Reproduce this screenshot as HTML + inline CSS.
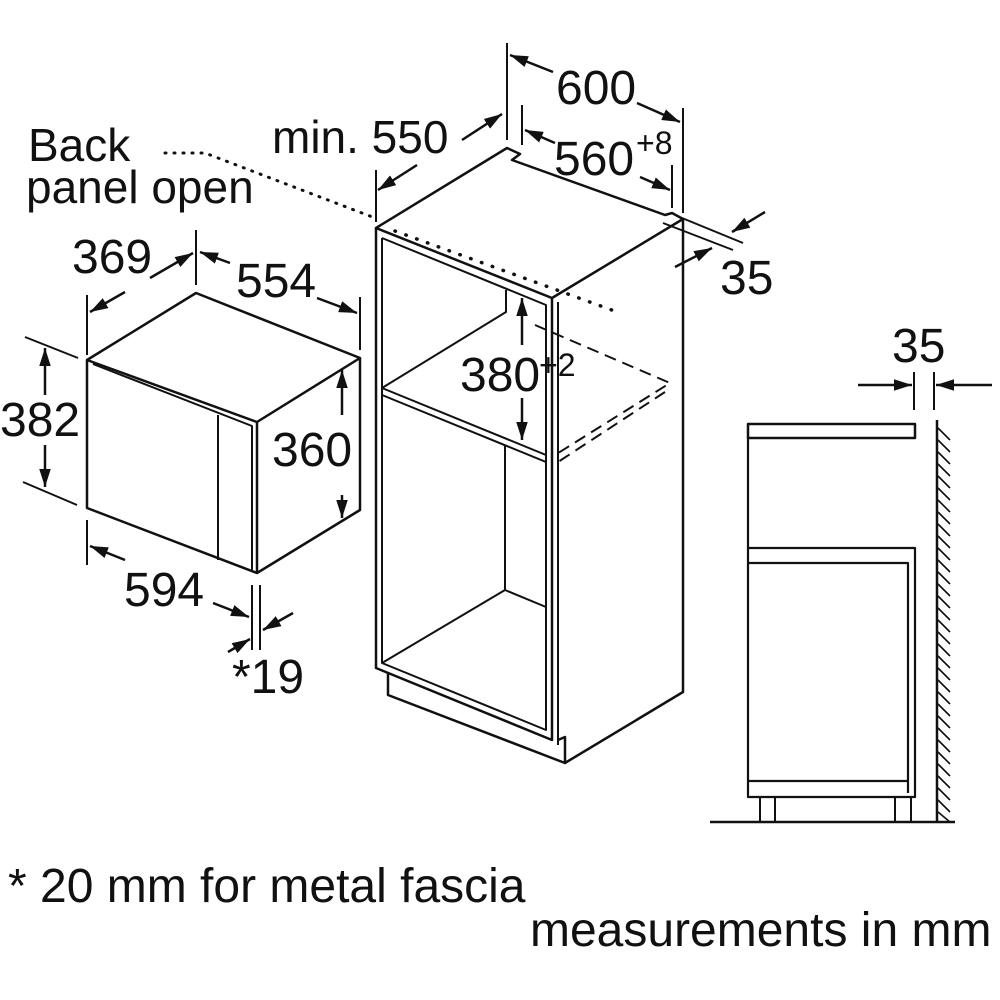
<!DOCTYPE html>
<html><head><meta charset="utf-8"><style>
html,body{margin:0;padding:0;background:#fff}
svg{display:block}
text{font-family:"Liberation Sans",sans-serif;fill:#111}
</style></head><body>
<svg width="1000" height="1000" viewBox="0 0 1000 1000" xmlns="http://www.w3.org/2000/svg">
<defs>
<marker id="b" viewBox="0 0 10 10" refX="10" refY="5" markerWidth="18" markerHeight="18" markerUnits="userSpaceOnUse" orient="auto">
<path d="M0,1.8 L10,5 L0,8.2 z" fill="#111"/></marker>
</defs>
<g stroke="#111" stroke-width="2.5" fill="none" stroke-linejoin="round">
<!-- microwave -->
<path d="M87,360 L196,293 L360,358 L257,422 Z"/>
<path d="M87,360 L87,508 L257,573 L257,422"/>
<path d="M360,358 L360,510 L257,573"/>
<path d="M93,364 L252,426 L252,570" stroke-width="2"/>
<path d="M218,415 L218,560" stroke-width="2"/>
<!-- microwave dims -->
<path d="M87,295 L87,355 M196,230 L196,285 M360,297 L360,350" stroke-width="2"/>
<path d="M150,278 L193,253" marker-end="url(#b)"/>
<path d="M125,292 L90,312" marker-end="url(#b)"/>
<path d="M230,263 L200,252" marker-end="url(#b)"/>
<path d="M317,298 L357,313" marker-end="url(#b)"/>
<path d="M25,337 L78,358 M23,482 L77,505" stroke-width="2"/>
<path d="M45,395 L45,348" marker-end="url(#b)"/>
<path d="M45,445 L45,487" marker-end="url(#b)"/>
<path d="M342,415 L342,370" marker-end="url(#b)"/>
<path d="M342,495 L342,518" marker-end="url(#b)"/>
<path d="M87,520 L87,565 M252,585 L252,650 M260,585 L260,650" stroke-width="2"/>
<path d="M125,560 L90,546" marker-end="url(#b)"/>
<path d="M213,603 L249,617" marker-end="url(#b)"/>
<path d="M293,613 L263,630" marker-end="url(#b)"/>
<path d="M228,652 L250,639" marker-end="url(#b)"/>
<!-- cabinet -->
<path d="M376,228 L507,148 L520,154 L512,160 L665,215 L672,213 L683,219 L552,298 Z"/>
<path d="M376,228 L376,668 L552,740 L552,298"/>
<path d="M382,238 L382,663 L546,730 L546,305 L382,238" stroke-width="2"/>
<path d="M558,302 L558,745" stroke-width="2"/>
<path d="M683,219 L683,692 L565,763 L565,737 L558,740"/>
<path d="M388,672 L388,695 L565,763"/>
<path d="M382,388 L546,455 M382,395 L546,462" stroke-width="2"/>
<path d="M506,290 L506,312 L382,388" stroke-width="2"/>
<path d="M505,445 L505,590 L382,663 M505,590 L546,607" stroke-width="2"/>
<path d="M535,325 L670,383 L555,455 M665,392 L558,462" stroke-width="2" stroke-dasharray="12,7"/>
<path d="M165,153 L205,153 L375,218" stroke-width="3" stroke-dasharray="1,8" stroke-linecap="round"/>
<path d="M395,231 L620,313" stroke-width="3.5" stroke-dasharray="0.5,11" stroke-linecap="round"/>
<!-- cabinet dims -->
<path d="M507,43 L507,140 M683,108 L683,213" stroke-width="2"/>
<path d="M553,72 L510,55" marker-end="url(#b)"/>
<path d="M637,103 L680,122" marker-end="url(#b)"/>
<path d="M522,105 L522,145 M672,165 L672,208" stroke-width="2"/>
<path d="M555,143 L525,130" marker-end="url(#b)"/>
<path d="M640,177 L670,190" marker-end="url(#b)"/>
<path d="M376,170 L376,222" stroke-width="2"/>
<path d="M417,165 L378,190" marker-end="url(#b)"/>
<path d="M462,140 L502,114" marker-end="url(#b)"/>
<path d="M682,218 L743,243 M663,223 L733,250" stroke-width="2"/>
<path d="M765,212 L732,232" marker-end="url(#b)"/>
<path d="M675,267 L712,248" marker-end="url(#b)"/>
<path d="M522,345 L522,298" marker-end="url(#b)"/>
<path d="M522,398 L522,440" marker-end="url(#b)"/>
<!-- side view -->
<rect x="748" y="424" width="167" height="14"/>
<path d="M748,438 L748,797 L915,797 L915,548 L748,548" stroke-width="2.2"/>
<path d="M748,563 L908,563 L908,793 M748,781 L908,781" stroke-width="2.2"/>
<path d="M760,797 L760,822 M775,797 L775,822 M895,797 L895,822 M911,797 L911,822" stroke-width="2"/>
<path d="M710,822 L955,822"/>
<path d="M937,420 L937,822"/>
<path d="M914,372 L914,410 M934,372 L934,410" stroke-width="2"/>
<path d="M858,385 L912,385" marker-end="url(#b)"/>
<path d="M992,385 L936,385" marker-end="url(#b)"/>
</g>
<g stroke="#111" stroke-width="1.6">
<path d="M938,428 L950,440 M938,440 L950,452 M938,452 L950,464 M938,464 L950,476 M938,476 L950,488 M938,488 L950,500 M938,500 L950,512 M938,512 L950,524 M938,524 L950,536 M938,536 L950,548 M938,548 L950,560 M938,560 L950,572 M938,572 L950,584 M938,584 L950,596 M938,596 L950,608 M938,608 L950,620 M938,620 L950,632 M938,632 L950,644 M938,644 L950,656 M938,656 L950,668 M938,668 L950,680 M938,680 L950,692 M938,692 L950,704 M938,704 L950,716 M938,716 L950,728 M938,728 L950,740 M938,740 L950,752 M938,752 L950,764 M938,764 L950,776 M938,776 L950,788 M938,788 L950,800 M938,800 L950,812 M938,812 L950,822"/>
</g>
<g font-size="46">
<text x="28" y="161">Back</text>
<text x="26" y="203">panel open</text>
<text x="272" y="153">min. 550</text>
<text x="556" y="104" font-size="48">600</text>
<text x="554" y="175" font-size="48">560</text>
<text x="636" y="154" font-size="32">+8</text>
<text x="720" y="294" font-size="48">35</text>
<text x="460" y="391" font-size="48">380</text>
<text x="539" y="376" font-size="32">+2</text>
<text x="72" y="273" font-size="48">369</text>
<text x="236" y="297" font-size="48">554</text>
<text x="0" y="436" font-size="48">382</text>
<text x="272" y="466" font-size="48">360</text>
<text x="124" y="606" font-size="48">594</text>
<text x="232" y="693" font-size="48">*19</text>
<text x="892" y="362" font-size="48">35</text>
<text x="8" y="902" font-size="48">* 20 mm for metal fascia</text>
<text x="530" y="946" font-size="48">measurements in mm</text>
</g>
</svg>
</body></html>
